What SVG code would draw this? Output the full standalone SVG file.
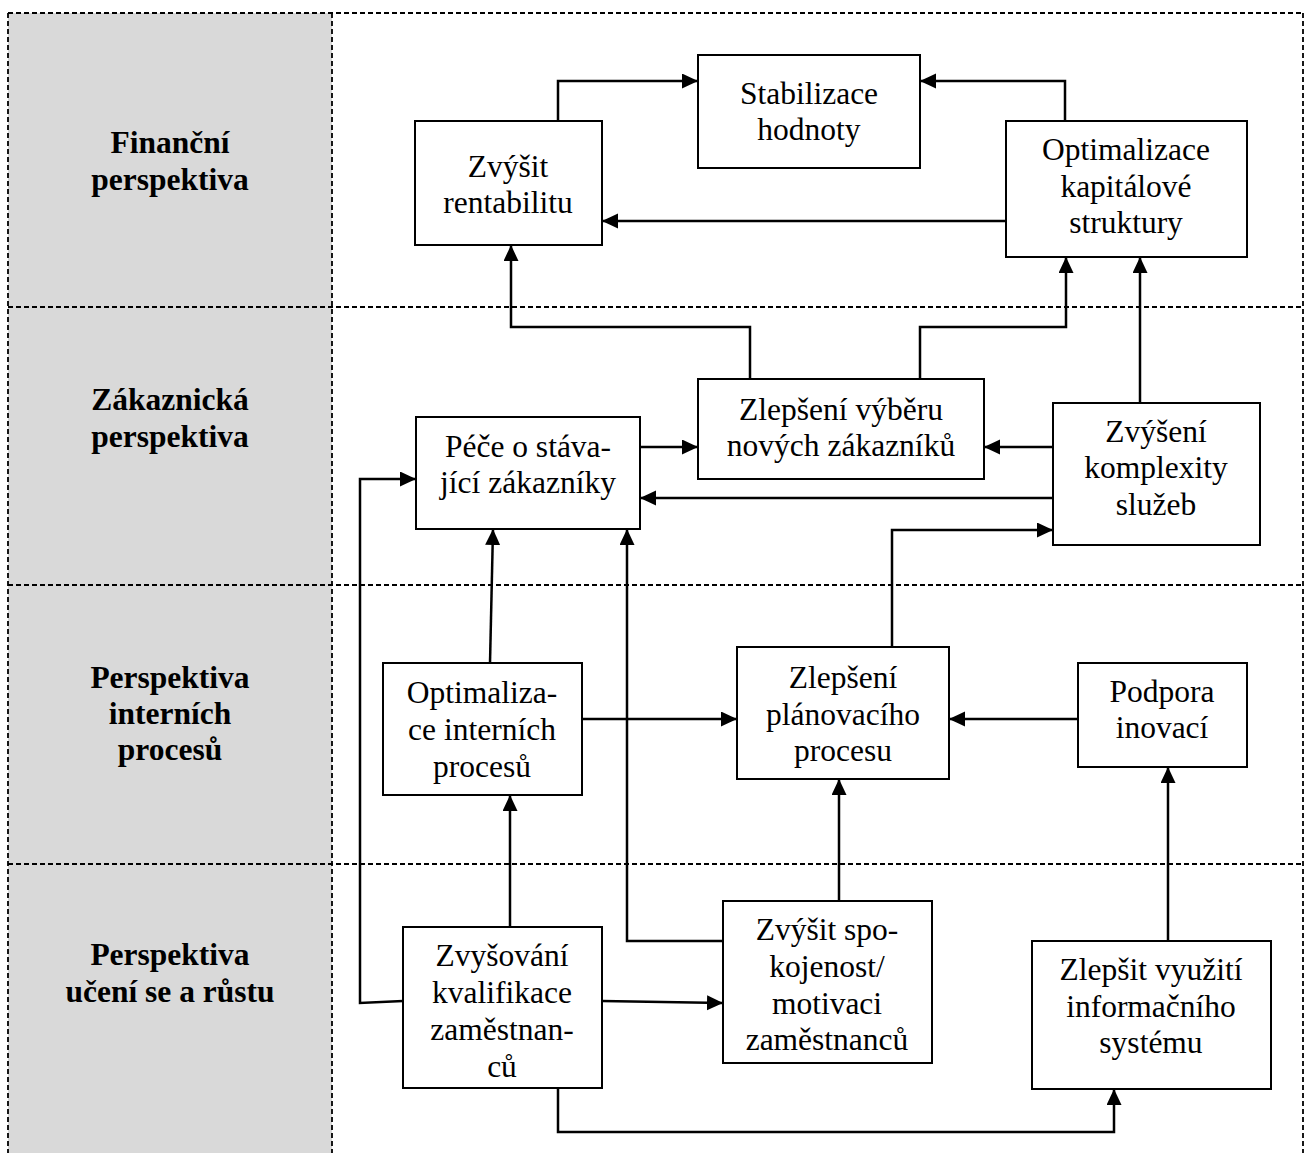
<svg xmlns="http://www.w3.org/2000/svg" width="1309" height="1153" viewBox="0 0 1309 1153">
<style>
.frame{stroke:#000;stroke-width:1.8;stroke-dasharray:5 3;fill:none}
.box{fill:#fff;stroke:#000;stroke-width:2}
.lbl{font-family:"Liberation Serif","Times New Roman",serif;font-size:31.5px;font-weight:bold;text-anchor:middle;fill:#000}
.txt{font-family:"Liberation Serif","Times New Roman",serif;font-size:31.5px;text-anchor:middle;fill:#000}
.con{fill:none;stroke:#000;stroke-width:2.5}
.arr{marker-end:url(#ah)}
</style>
<defs>
<marker id="ah" markerUnits="userSpaceOnUse" markerWidth="17" markerHeight="16" refX="16" refY="7.5" orient="auto">
<path d="M0,0 L16,7.5 L0,15 Z" fill="#000"/>
</marker>
</defs>
<rect x="0" y="0" width="1309" height="1153" fill="#fff"/>
<g id="lanes">
<rect x="8" y="13" width="324" height="1145" fill="#d9d9d9"/>
<line class="frame" x1="8" y1="13" x2="1303" y2="13"/>
<line class="frame" x1="8" y1="13" x2="8" y2="1153"/>
<line class="frame" x1="332" y1="13" x2="332" y2="1153"/>
<line class="frame" x1="1303" y1="13" x2="1303" y2="1153"/>
<line class="frame" x1="8" y1="307" x2="1303" y2="307"/>
<line class="frame" x1="8" y1="585" x2="1303" y2="585"/>
<line class="frame" x1="8" y1="864" x2="1303" y2="864"/>
<text class="lbl" x="170" y="153">Finanční</text>
<text class="lbl" x="170" y="190">perspektiva</text>
<text class="lbl" x="170" y="410">Zákaznická</text>
<text class="lbl" x="170" y="447">perspektiva</text>
<text class="lbl" x="170" y="688">Perspektiva</text>
<text class="lbl" x="170" y="724">interních</text>
<text class="lbl" x="170" y="760">procesů</text>
<text class="lbl" x="170" y="965">Perspektiva</text>
<text class="lbl" x="170" y="1002">učení se a růstu</text>
</g>
<g id="connectors">
<path class="con arr" d="M558,121 V81 H698"/>
<path class="con arr" d="M1065,121 V81 H920"/>
<path class="con arr" d="M1006,221 H602"/>
<path class="con arr" d="M750,379 V327 H511 V245"/>
<path class="con arr" d="M920,379 V327 H1066 V257"/>
<path class="con arr" d="M1140,403 V257"/>
<path class="con arr" d="M640,447 H698"/>
<path class="con arr" d="M1053,447 H984"/>
<path class="con arr" d="M1053,498 H640"/>
<path class="con arr" d="M892,647 V530 H1053"/>
<path class="con arr" d="M490,663 L493,529"/>
<path class="con arr" d="M582,719 H737"/>
<path class="con arr" d="M1078,719 H949"/>
<path class="con arr" d="M510,927 V795"/>
<path class="con arr" d="M403,1001 L360,1003 V479 H416"/>
<path class="con arr" d="M602,1001 L723,1003"/>
<path class="con arr" d="M723,941 H627 V529"/>
<path class="con arr" d="M839,901 V779"/>
<path class="con arr" d="M1168,941 V767"/>
<path class="con arr" d="M558,1088 V1132 H1114 V1089"/>
</g>
<g id="n-stabilizace">
<rect class="box" x="698" y="55" width="222" height="113"/>
<text class="txt" x="809" y="104">Stabilizace</text>
<text class="txt" x="809" y="140">hodnoty</text>
</g>
<g id="n-rentabilita">
<rect class="box" x="415" y="121" width="187" height="124"/>
<text class="txt" x="508" y="177">Zvýšit</text>
<text class="txt" x="508" y="213">rentabilitu</text>
</g>
<g id="n-kapital">
<rect class="box" x="1006" y="121" width="241" height="136"/>
<text class="txt" x="1126" y="160">Optimalizace</text>
<text class="txt" x="1126" y="197">kapitálové</text>
<text class="txt" x="1126" y="233">struktury</text>
</g>
<g id="n-pece">
<rect class="box" x="416" y="417" width="224" height="112"/>
<text class="txt" x="528" y="457">Péče o stáva-</text>
<text class="txt" x="528" y="493">jící zákazníky</text>
</g>
<g id="n-vyber">
<rect class="box" x="698" y="379" width="286" height="100"/>
<text class="txt" x="841" y="420">Zlepšení výběru</text>
<text class="txt" x="841" y="456">nových zákazníků</text>
</g>
<g id="n-komplexita">
<rect class="box" x="1053" y="403" width="207" height="142"/>
<text class="txt" x="1156" y="442">Zvýšení</text>
<text class="txt" x="1156" y="478">komplexity</text>
<text class="txt" x="1156" y="515">služeb</text>
</g>
<g id="n-interni">
<rect class="box" x="383" y="663" width="199" height="132"/>
<text class="txt" x="482" y="703">Optimaliza-</text>
<text class="txt" x="482" y="740">ce interních</text>
<text class="txt" x="482" y="777">procesů</text>
</g>
<g id="n-planovani">
<rect class="box" x="737" y="647" width="212" height="132"/>
<text class="txt" x="843" y="688">Zlepšení</text>
<text class="txt" x="843" y="725">plánovacího</text>
<text class="txt" x="843" y="761">procesu</text>
</g>
<g id="n-inovace">
<rect class="box" x="1078" y="663" width="169" height="104"/>
<text class="txt" x="1162" y="702">Podpora</text>
<text class="txt" x="1162" y="738">inovací</text>
</g>
<g id="n-kvalifikace">
<rect class="box" x="403" y="927" width="199" height="161"/>
<text class="txt" x="502" y="966">Zvyšování</text>
<text class="txt" x="502" y="1003">kvalifikace</text>
<text class="txt" x="502" y="1040">zaměstnan-</text>
<text class="txt" x="502" y="1077">ců</text>
</g>
<g id="n-spokojenost">
<rect class="box" x="723" y="901" width="209" height="162"/>
<text class="txt" x="827" y="940">Zvýšit spo-</text>
<text class="txt" x="827" y="977">kojenost/</text>
<text class="txt" x="827" y="1014">motivaci</text>
<text class="txt" x="827" y="1050">zaměstnanců</text>
</g>
<g id="n-is">
<rect class="box" x="1032" y="941" width="239" height="148"/>
<text class="txt" x="1151" y="980">Zlepšit využití</text>
<text class="txt" x="1151" y="1017">informačního</text>
<text class="txt" x="1151" y="1053">systému</text>
</g>
</svg>
